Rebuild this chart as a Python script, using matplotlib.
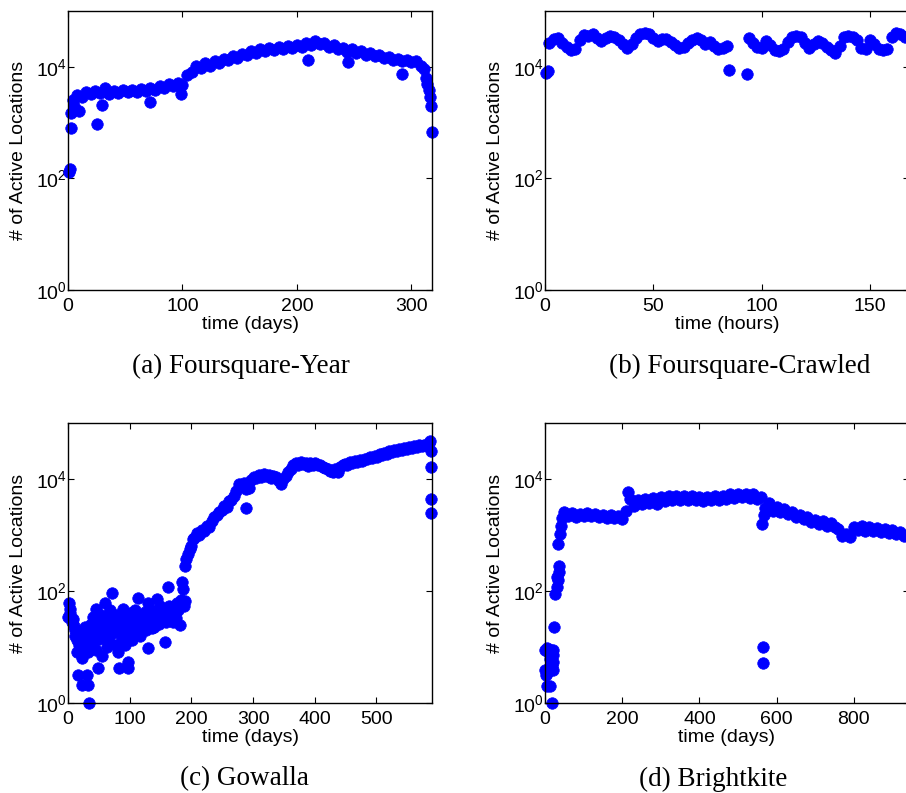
import numpy as np
import matplotlib
matplotlib.use("Agg")
import matplotlib.pyplot as plt
from matplotlib.ticker import FixedLocator, NullLocator, LogFormatterSciNotation

plt.rcParams['font.family'] = 'Liberation Sans'
plt.rcParams['font.size'] = 14
plt.rcParams['mathtext.fontset'] = 'custom'
plt.rcParams['mathtext.rm'] = 'Liberation Sans'
plt.rcParams['mathtext.it'] = 'Liberation Sans:italic'
plt.rcParams['mathtext.bf'] = 'Liberation Sans:bold'

# (a) Foursquare-Year, one dot every 4 days plus the odd ones
fy_days = list(range(4, 312, 4))
fy_locs = [2500, 3100, 2900, 3500, 3200, 3700, 3400, 4100, 3300, 3700,
           3400, 3800, 3500, 3900, 3600, 4000, 3700, 4100, 3800, 4500,
           4200, 4900, 4500, 5200, 4700, 7200, 8000, 10500, 9500, 11500,
           10500, 12500, 11500, 14000, 13000, 15500, 14500, 17000, 16000, 19000,
           17500, 20500, 19000, 21500, 20000, 23000, 21000, 23500, 21500, 24500,
           23000, 27000, 25000, 29500, 25500, 26500, 22500, 25000, 21000, 22000,
           18500, 21000, 18000, 19500, 16500, 17500, 15500, 16000, 14500, 15000,
           13000, 14000, 12500, 13500, 12000, 12500, 10500]
fy_extra_days = [1, 2, 3, 3, 5, 10, 25, 30, 72, 99, 210, 245, 292,
                 311, 313, 314, 315, 316, 317, 318]
fy_extra_locs = [130, 145, 810, 1500, 2000, 1600, 960, 2100, 2300, 3200, 13500, 12000, 7300,
                 9000, 6300, 5000, 3900, 2900, 1950, 690]

# (b) Foursquare-Crawled, every 2 hours
fc_hours_1 = list(range(2, 86, 2))
fc_locs_1 = [27000, 32000, 33000, 27000, 23000, 20000, 21000, 30000, 37000, 36000,
             38000, 33000, 29000, 33000, 35000, 34000, 30000, 26000, 22000, 26000,
             33000, 38000, 41000, 38000, 33000, 29000, 31000, 31000, 28000, 25000,
             22000, 23000, 27000, 30000, 33000, 30000, 26000, 28000, 24000, 21000,
             21500, 23500]
fc_hours_2 = list(range(94, 170, 2))
fc_locs_2 = [33000, 27000, 23000, 22000, 29000, 25000, 20000, 19000, 20500, 28000,
             34000, 35000, 34000, 27000, 22000, 26000, 29000, 27000, 23000, 20000,
             18000, 24000, 34000, 35000, 34000, 30000, 22000, 21000, 30000, 26000,
             21000, 20000, 21000, 34000, 40000, 38000, 34000, 35000]
fc_extra_hours = [0.5, 1.5, 85, 93]
fc_extra_locs = [7900, 8500, 8900, 7500]

# (c) Gowalla, noisy start then a band
gw_early_days = [0.5, 2, 3, 4, 6, 8, 10, 11, 12, 14, 14, 16, 18, 20, 22, 22, 24, 26, 28, 30,
                 30, 32, 33, 34, 36, 38, 40, 41, 43, 45, 46, 48, 49, 50, 52, 54, 55, 57, 58, 60,
                 62, 63, 65, 67, 68, 70, 71, 73, 75, 77, 79, 81, 83, 84, 86, 88, 89, 90, 92, 94,
                 95, 97, 97, 99, 101, 103, 105, 107, 109, 111, 113, 114, 116, 118, 120, 122, 124, 126, 128, 129,
                 130, 132, 134, 136, 138, 140, 142, 144, 146, 148, 149, 151, 153, 155, 157, 159, 160, 162, 164, 166,
                 168, 170, 172, 173, 175, 177, 179, 181, 183, 184, 186, 188, 190, 190, 192, 195, 197, 200, 203]
gw_early_locs = [34, 62, 47, 40, 28, 31, 24, 20, 16, 13.5, 8.3, 3.2, 11, 18, 6.4, 2.1, 9, 14, 23, 3.2,
                 12, 8, 2.1, 1, 16, 26, 35, 12, 20, 9, 47, 28, 4.3, 14, 20, 38, 7, 16, 27, 62,
                 22, 10, 35, 13, 45, 31, 94, 18, 24, 11, 38, 8.3, 4.3, 20, 30, 14, 47, 23, 11, 33,
                 18, 4.3, 5.5, 25, 40, 13.5, 28, 20, 45, 31, 76, 22, 16, 35, 25, 35, 42, 20, 28, 62,
                 9.7, 30, 45, 22, 38, 23, 30, 71, 40, 26, 53, 33, 45, 35, 12.5, 28, 40, 120, 53, 30,
                 42, 28, 55, 40, 33, 60, 45, 25, 70, 142, 107, 55, 65, 275, 380, 455, 560, 630, 850]
gw_days = list(range(205, 589, 4))
gw_locs = [900, 1100, 1000, 1250, 1200, 1450, 1400, 1800, 2100, 2300,
           2600, 2800, 3300, 3200, 4000, 4200, 5000, 6200, 8000, 7500,
           8500, 6500, 7000, 9500, 11000, 10500, 12000, 11000, 12500, 11500,
           12000, 10500, 11500, 11000, 9500, 8200, 10000, 11500, 13500, 15000,
           17500, 19000, 18000, 20000, 18500, 19500, 17000, 19500, 18000, 19500,
           18000, 17500, 16500, 15500, 15000, 14000, 13500, 15000, 13500, 16500,
           17500, 18500, 18000, 20000, 19000, 21000, 20500, 22000, 21000, 23000,
           22500, 24500, 23500, 26000, 25000, 27500, 26500, 29000, 28000, 31000,
           30000, 33000, 31500, 34500, 33000, 36000, 34500, 37500, 36000, 39000,
           37000, 40000, 38500, 41000, 40000, 44000]
gw_extra_days = [288, 587, 588, 588, 588, 588]
gw_extra_locs = [3000, 47000, 31000, 16500, 4400, 2500]

# (d) Brightkite, every 10 days plus the start and the drop-outs
bk_days = list(range(50, 950, 10))
bk_locs = [2600, 2200, 2500, 2100, 2400, 2200, 2450, 2150, 2400, 2100,
           2300, 2050, 2250, 2000, 2200, 1900, 2700, 4400, 3300, 4200,
           3600, 4400, 3800, 4600, 3600, 4700, 4000, 4900, 4200, 5000,
           4300, 5000, 4200, 4900, 4200, 4800, 4100, 4800, 4200, 4900,
           4300, 5000, 4400, 5300, 4600, 5500, 4700, 5300, 4600, 5300,
           4400, 4700, 3000, 3700, 2700, 3200, 2600, 2900, 2400, 2600,
           2100, 2300, 1900, 2100, 1700, 1850, 1550, 1750, 1450, 1650,
           1400, 1300, 950, 1050, 920, 1400, 1250, 1450, 1200, 1400,
           1200, 1350, 1150, 1300, 1100, 1250, 1050, 1150, 950, 1000]
bk_extra_days = [0, 0, 2, 4, 4, 6, 8, 10, 12, 13, 15, 17, 19, 21, 21, 21, 21, 23, 26, 30,
                 32, 34, 35, 37, 34, 39, 42, 45, 215, 565, 565, 562, 567]
bk_extra_locs = [9, 3.9, 3.2, 2.0, 3.5, 9.5, 8.3, 4.3, 6, 2.0, 9, 1.0, 4.5, 3.9, 5.5, 7.3, 9, 23, 87, 120,
                 180, 160, 220, 275, 690, 1050, 1450, 2000, 5900, 10, 5.2, 1580, 2300]

panels = [
    ([fy_days, fy_extra_days], [fy_locs, fy_extra_locs], 'time (days)', 318, [0, 100, 200, 300], '(a) Foursquare-Year'),
    ([fc_hours_1, fc_hours_2, fc_extra_hours], [fc_locs_1, fc_locs_2, fc_extra_locs], 'time (hours)', 168, [0, 50, 100, 150], '(b) Foursquare-Crawled'),
    ([gw_early_days, gw_days, gw_extra_days], [gw_early_locs, gw_locs, gw_extra_locs], 'time (days)', 590, [0, 100, 200, 300, 400, 500], '(c) Gowalla'),
    ([bk_days, bk_extra_days], [bk_locs, bk_extra_locs], 'time (days)', 943, [0, 200, 400, 600, 800], '(d) Brightkite'),
]

W, H = 906, 793
fig = plt.figure(figsize=(W / 100, H / 100), dpi=100)

# axes boxes in pixels: left, top, width, height
boxes = [(68, 11, 364, 279), (545, 11, 364, 279), (68, 423, 364, 280), (545, 423, 364, 280)]
captions_xy = [(241, 366), (740, 366), (244, 779), (713, 779)]

for (xs, ys, xl, xmax, xt, cap), (l, t, w, h), (cx, cy) in zip(panels, boxes, captions_xy):
    ax = fig.add_axes([l / W, 1 - (t + h) / H, w / W, h / H])
    for xx, yy in zip(xs, ys):
        ax.plot(xx, yy, 'o', color='b', ms=8.3, mew=0.5, mec='b', clip_on=False)
    ax.set_yscale('log')
    ax.set_ylim(1, 1e5)
    ax.set_xlim(0, xmax)
    ax.yaxis.set_major_locator(FixedLocator([1, 100, 10000]))
    ax.yaxis.set_major_formatter(LogFormatterSciNotation())
    ax.yaxis.set_minor_locator(NullLocator())
    ax.set_xticks(xt)
    ax.tick_params(direction='in', top=True, right=True, length=4, width=0.8)
    ax.tick_params(axis='x', pad=6)
    ax.tick_params(axis='y', pad=1)
    for s in ax.spines.values():
        s.set_linewidth(1.0)
    ax.set_xlabel(xl, labelpad=0.5)
    ax.set_ylabel('# of Active Locations', labelpad=6)
    fig.text(cx / W, 1 - cy / H, cap, ha='center', va='center',
             family='Liberation Serif', fontsize=19.5)

fig.savefig('out.png', dpi=100)
